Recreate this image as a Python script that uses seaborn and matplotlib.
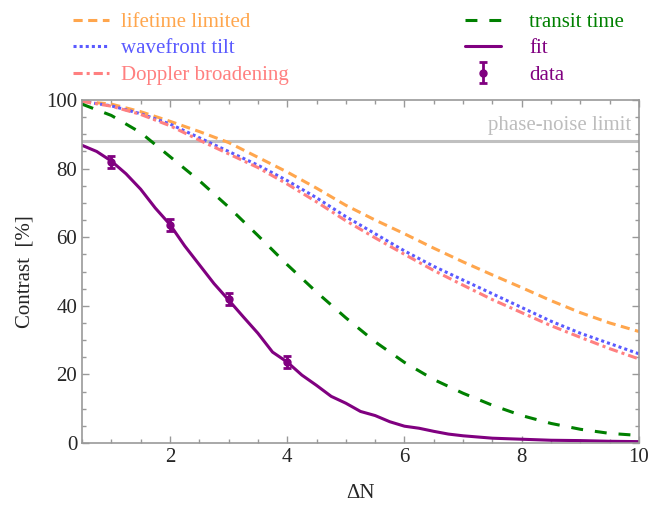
import numpy as np
import pandas as pd
import matplotlib
matplotlib.use("Agg")
import matplotlib.pyplot as plt
from matplotlib.ticker import MultipleLocator
import seaborn as sns

# values
dN = [0.5, 1.0, 1.5, 2.0, 2.5, 3.0, 3.5, 4.0, 4.5, 5.0,
      5.5, 6.0, 6.5, 7.0, 7.5, 8.0, 8.5, 9.0, 9.5, 10.0]
lifetime = [99.6, 98.8, 96.6, 93.8, 90.8, 87.6, 83.3, 79.0, 74.3, 69.3,
            65.0, 61.0, 56.8, 52.8, 49.0, 45.3, 41.5, 38.0, 35.0, 32.5]
wavefront = [99.6, 98.3, 96.0, 93.0, 89.0, 85.0, 81.0, 76.5, 71.5, 66.0,
             61.0, 56.0, 51.5, 47.5, 43.5, 39.5, 35.5, 32.0, 29.0, 26.0]
doppler = [99.6, 98.2, 95.8, 92.5, 88.3, 84.3, 80.3, 75.5, 70.3, 64.8,
           59.8, 55.0, 50.3, 46.0, 41.8, 38.0, 34.2, 30.8, 27.5, 24.5]
transit = [98.8, 95.5, 90.5, 83.5, 76.5, 68.8, 60.5, 52.0, 44.0, 36.5,
           29.5, 23.5, 18.5, 14.5, 11.0, 8.0, 5.7, 4.0, 2.8, 2.2]

fit_x = [0.5, 0.75, 1.0, 1.25, 1.5, 1.75, 2.0, 2.25, 2.5, 2.75, 3.0, 3.25,
         3.5, 3.75, 4.0, 4.25, 4.5, 4.75, 5.0, 5.25, 5.5, 5.75, 6.0, 6.25,
         6.5, 6.75, 7.0, 7.5, 8.0, 8.5, 9.0, 9.5, 10.0]
fit_y = [86.8, 85.0, 82.2, 78.5, 74.0, 68.5, 63.7, 57.5, 52.0, 46.5, 41.7, 36.8,
         32.0, 26.5, 23.6, 19.8, 16.8, 13.6, 11.6, 9.2, 8.0, 6.2, 4.9, 4.3,
         3.4, 2.6, 2.1, 1.4, 1.1, 0.8, 0.7, 0.5, 0.4]

data_x = [1, 2, 3, 4]
data_y = [82.0, 63.6, 41.9, 23.7]
data_err = [1.8, 1.8, 1.7, 1.8]

phase_noise = 88

c_life = '#FFA64D'
c_wave = '#5A5AFF'
c_dopp = '#FF8080'
c_tran = '#008000'
c_fit = '#800080'

sns.set_style('ticks')
plt.rcParams['font.family'] = ['Liberation Serif', 'DejaVu Serif']

fig = plt.figure(figsize=(6.65, 5.08), dpi=100)
ax = fig.add_axes([82 / 665, 1 - 443 / 508, (639 - 82) / 665, (443 - 100) / 508])

ax.axhline(phase_noise, color='#C0C0C0', lw=2.2, zorder=1)
ax.text(9.87, 92.7, 'phase-noise limit', color='#BDBDBD', fontsize=15,
        ha='right', va='center')

lw = 2.2
sns.lineplot(x=dN, y=lifetime, ax=ax, color=c_life, lw=lw, linestyle=(0, (3.0, 1.8)))
sns.lineplot(x=dN, y=wavefront, ax=ax, color=c_wave, lw=lw, linestyle=(0, (1.0, 1.0)))
sns.lineplot(x=dN, y=doppler, ax=ax, color=c_dopp, lw=lw, linestyle=(0, (3.0, 1.3, 1.0, 1.3)))
sns.lineplot(x=dN, y=transit, ax=ax, color=c_tran, lw=lw, linestyle=(0, (3.9, 3.9)))
sns.lineplot(x=fit_x, y=fit_y, ax=ax, color=c_fit, lw=2.2)
eb = ax.errorbar(data_x, data_y, yerr=data_err, fmt='o', color=c_fit, ms=5,
                 elinewidth=2, capsize=3, capthick=2, zorder=5)

ax.set_xlim(0.5, 10)
ax.set_ylim(0, 100)
ax.xaxis.set_major_locator(MultipleLocator(2))
ax.xaxis.set_minor_locator(MultipleLocator(0.5))
ax.yaxis.set_major_locator(MultipleLocator(20))
ax.yaxis.set_minor_locator(MultipleLocator(5))
ax.tick_params(which='both', direction='in', top=True, right=True,
               color='#999999', labelsize=15, width=1)
ax.tick_params(which='major', length=5)
ax.tick_params(which='minor', length=3)
for s in ax.spines.values():
    s.set_color('#999999')
    s.set_linewidth(1.2)

ax.set_xlabel('ΔN', fontsize=15, labelpad=12)
ax.set_ylabel('Contrast  [%]', fontsize=15, labelpad=8)

# legend above the plot, split in two blocks
lines = ax.get_lines()[1:6]
leg_kw = dict(loc='upper left', frameon=False, fontsize=15, handlelength=1.7,
              labelspacing=0.33, borderpad=0)
leg1 = fig.legend(lines[:3], ['lifetime limited', 'wavefront tilt', 'Doppler broadening'],
                  bbox_to_anchor=(63 / 665, 1 - 2 / 508), handletextpad=0.6, **leg_kw)
for t, c in zip(leg1.get_texts(), [c_life, c_wave, c_dopp]):
    t.set_color(c)
leg2 = fig.legend([lines[3], lines[4], eb], ['transit time', 'fit', 'data'],
                  bbox_to_anchor=(455 / 665, 1 - 2 / 508), handletextpad=1.35, **leg_kw)
for t, c in zip(leg2.get_texts(), [c_tran, c_fit, c_fit]):
    t.set_color(c)

fig.savefig('out.png', dpi=100)
